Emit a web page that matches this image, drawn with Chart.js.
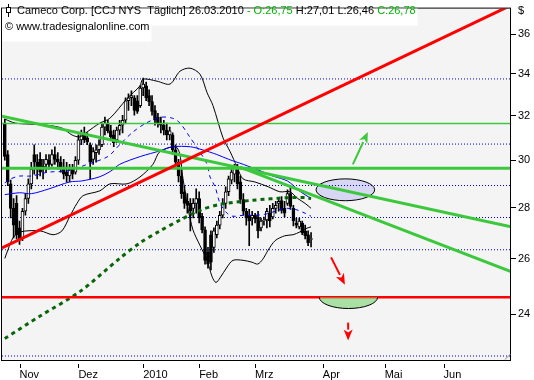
<!DOCTYPE html>
<html><head><meta charset="utf-8">
<script src="https://cdn.jsdelivr.net/npm/chart.js@4.4.0/dist/chart.umd.min.js"></script>
<style>html,body{margin:0;padding:0;background:#fff}canvas{display:block}</style>
</head><body>
<canvas id="c" width="534" height="380"></canvas>
<script>
// trading-day index of the first candle (0 = 2 Nov 2009)
const firstDay = -5;
const openP = [31.66,30.25,28.99,27.98,28.18,27.20,26.81,27.86,28.38,28.99,30.25,29.91,30.04,29.61,29.82,30.00,29.82,30.25,30.04,29.91,29.70,29.49,29.32,29.61,29.49,30.00,30.90,31.12,30.99,30.68,30.04,30.33,30.46,30.68,31.47,31.66,31.30,31.12,30.90,31.34,31.56,31.79,32.70,32.84,32.84,32.70,32.47,33.31,33.41,32.94,32.66,32.24,31.93,31.66,31.56,31.34,31.12,31.12,30.46,29.91,29.32,28.66,28.26,28.18,27.98,28.18,28.38,27.66,27.12,26.25,26.93,26.44,26.93,27.31,27.70,28.18,28.66,29.15,29.40,29.61,29.07,28.34,27.86,27.70,27.59,27.70,27.63,27.20,27.47,27.51,27.78,27.63,27.98,28.18,28.30,27.98,28.18,28.58,27.98,27.39,27.24,27.39,27.08,26.93,26.75];
const highP = [31.84,30.42,29.15,28.38,28.50,27.47,27.98,28.58,29.20,29.91,30.68,30.25,30.33,30.04,30.25,30.25,30.46,30.59,30.33,30.16,30.04,29.91,29.82,29.82,30.16,31.12,31.34,31.47,31.21,30.77,30.55,30.68,30.90,31.66,31.93,31.79,31.56,31.34,31.47,31.79,32.02,32.84,33.03,33.17,32.94,32.94,33.41,33.79,33.60,33.22,32.94,32.47,32.11,31.93,31.79,31.66,31.47,31.21,30.68,30.04,29.61,28.91,28.58,28.38,28.38,28.78,28.66,27.78,27.24,26.44,27.08,27.20,27.47,27.86,28.38,28.87,29.32,29.61,29.82,29.82,29.32,28.58,27.98,27.94,27.86,27.78,27.86,27.59,27.63,27.98,28.10,28.18,28.26,28.42,28.46,28.26,28.74,28.83,28.10,27.59,27.59,27.47,27.31,27.08,27.01];
const lowP = [30.00,28.91,27.59,26.81,26.77,26.55,26.70,27.70,28.18,28.78,29.40,29.20,29.32,29.20,29.49,29.61,29.74,29.82,29.61,29.49,29.20,29.07,29.07,29.20,29.40,29.82,30.68,30.77,30.68,29.20,29.82,29.91,30.25,30.59,31.12,31.21,30.90,30.59,30.77,31.12,31.21,31.66,32.24,32.47,32.02,32.11,32.38,32.94,32.70,32.47,32.02,31.56,31.47,31.21,31.12,30.90,30.90,30.25,29.74,29.07,28.38,27.98,27.78,27.08,27.59,27.78,27.39,27.00,25.81,25.66,25.59,26.25,26.81,27.16,27.59,27.98,28.50,28.99,29.07,28.78,28.18,27.70,27.31,26.51,27.31,27.39,26.81,27.08,27.31,27.20,27.24,27.55,27.78,27.86,27.78,27.63,28.10,27.94,27.28,27.20,27.16,26.93,26.77,26.51,26.46];
const closeP = [30.16,29.07,27.98,27.31,26.93,26.77,27.86,28.38,28.99,29.61,29.91,29.61,29.49,29.74,30.04,29.82,30.25,30.04,29.91,29.70,29.40,29.32,29.61,29.40,30.00,30.90,31.12,30.90,30.81,29.91,30.38,30.46,30.68,31.47,31.66,31.30,31.03,30.77,31.34,31.56,31.79,32.70,32.84,32.94,32.24,32.20,33.31,33.50,32.84,32.66,32.20,31.79,31.66,31.56,31.34,31.12,31.30,30.46,29.91,29.32,28.58,28.18,28.10,27.86,28.18,28.38,27.59,27.12,25.95,25.81,25.88,27.08,27.31,27.70,28.18,28.66,29.20,29.49,29.65,28.99,28.34,27.86,27.59,27.47,27.70,27.55,27.08,27.47,27.51,27.86,27.47,27.98,28.10,28.26,27.90,27.78,28.58,28.06,27.47,27.31,27.47,27.00,26.89,26.62,26.78];

// indicator readings [day index, value]
const sma20 = [[-5,29.03],[-3,29.20],[0,29.32],[4,29.32],[10,29.49],[16,29.53],[23,29.82],[30,30.16],[34,30.68],[38.5,31.25],[43,31.66],[48,31.93],[52,31.88],[54.5,31.66],[58,30.99],[60.3,30.55],[63.7,29.82],[64.7,29.28],[66.4,28.87],[68.1,28.18],[70.5,27.78],[72.5,27.66],[76,27.70],[80,27.70],[83.3,27.74],[86.8,27.86],[90,27.98],[93.6,27.94],[97,27.78],[99,27.66]];
const sma50 = [[-5,28.54],[0,28.62],[4,28.58],[10,28.78],[17,29.07],[21,29.11],[27,29.28],[31,29.53],[34,29.82],[41,30.16],[48,30.42],[52,30.59],[58,30.59],[62,30.46],[67,30.25],[71,30.04],[76,29.82],[82,29.53],[86,29.32],[91,29.11],[95,28.70],[99,28.38]];
const sma200 = [[-5,23.17],[7,23.94],[20.5,24.80],[34,26.02],[41,26.62],[47.7,27.08],[54.5,27.51],[61.3,27.90],[68.1,28.14],[78.3,28.30],[91.9,28.42],[97,28.42],[99,28.38]];
const bbUpper = [[-5,31.84],[-1.5,31.66],[3.6,31.61],[9.3,31.56],[14.4,31.43],[17.8,31.12],[20.5,31.03],[22.9,31.25],[27.3,31.66],[30.7,31.88],[36.5,32.80],[40.9,33.41],[41.9,33.74],[46.7,33.64],[51.1,33.50],[54.5,34.13],[57.9,34.28],[61.3,33.98],[63.7,33.08],[65.7,32.47],[69.1,30.99],[71.5,30.38],[73.9,29.70],[75.9,29.20],[79.9,29.07],[84.4,28.87],[88.4,28.66],[91.8,28.66],[94.5,28.38],[97,28.18],[99,27.98]];
const bbLower = [[-5,26.02],[-3.9,26.36],[-2.2,26.81],[0.2,27.04],[7,27.08],[11.4,26.93],[14.4,27.08],[17.1,27.66],[19.5,28.18],[21.6,28.50],[27.3,28.70],[30.7,28.99],[36.5,28.99],[40.9,29.28],[45.3,29.82],[47.7,30.38],[53.5,30.55],[55.5,29.20],[57.2,27.98],[58.9,27.12],[61.3,26.51],[63.7,25.95],[65.4,25.34],[66.7,25.13],[68.1,25.30],[70.5,25.70],[72.5,25.95],[75.9,25.95],[78.9,25.88],[80.9,25.81],[82.6,25.99],[84.4,26.33],[86.8,26.70],[90.1,26.89],[92.9,26.93],[95.2,27.04],[97,27.16],[99,27.24]];

// drawn levels / trend lines
const fibLevels = [33.75,30.71,28.92,27.61,26.35,22.59];
const greenLevels = [31.64,29.65];
const redLevel = 24.60;
const redTrend = [[-5.95,26.42],[166.9,37.55]];
const greenTrendA = [[-5.95,31.97],[166.9,27.24]];
const greenTrendB = [[74.9,29.70],[166.9,25.53]];

// annotations (data coordinates)
const ellipseBox = {x0:100.7, x1:120.6, p0:29.20, p1:28.29};
const bowlBox = {x0:101.8, x1:121.6, top:24.60, bottom:24.20};
const arrows = [
  {from:[105.8,26.06], to:[110.5,25.05], color:'#ff0000'},
  {from:[111.6,23.71], to:[111.6,23.10], color:'#ff0000'},
  {from:[113.2,29.82], to:[118.3,31.25], color:'#3cc83c'}
];

// axes
const xMin = -5.95, xMax = 166.9;
const yMin = 22.46, yMax = 37.37;
const monthTicks = [0,20,42,61,80,103,124,144];
const monthLabels = ['Nov','Dez','2010','Feb','Mrz','Apr','Mai','Jun'];
const priceTicks = [24,26,28,30,32,34,36];
const title = [['Cameco Corp. [CCJ NYS  Täglich] 26.03.2010 ','#000'],['- O:26,75','#00b400'],[' H:27,01 L:26,46 ','#000'],['C:26,78','#00b400']];
const copyright = '© www.tradesignalonline.com';

const FONT = '"Liberation Sans", Arial, sans-serif';
Chart.defaults.font.family = FONT;
Chart.defaults.font.size = 11;
Chart.defaults.color = '#000';

const pts = arr => arr.map(p => ({x:p[0], y:p[1]}));
const days = openP.map((_, k) => firstDay + k);
const bodies = days.map((d, k) => ({x:d, y:[openP[k], closeP[k]]}));
const wicks = days.map((d, k) => ({x:d, y:[lowP[k], highP[k]]}));
const isUp = k => closeP[k] >= openP[k];

function line(data, color, width, extra) {
  return Object.assign({type:'line', data, borderColor:color, borderWidth:width, pointRadius:0, fill:false, tension:0, clip:0}, extra||{});
}

const datasets = [];
fibLevels.forEach(v => datasets.push(line([{x:xMin,y:v},{x:xMax,y:v}], '#0000c8', 1, {borderDash:[1,2], order:20})));
datasets.push({type:'bar', data:wicks, backgroundColor:'#000', borderWidth:0, barThickness:1, grouped:false, order:15});
datasets.push({type:'bar', data:bodies, grouped:false, order:14, barThickness:3, borderWidth:1, borderSkipped:false, borderColor:'#000',
  backgroundColor: c => isUp(c.dataIndex) ? '#ffffff' : '#000000'});
datasets.push(line(pts(bbUpper), '#000', 1, {tension:0.3, order:12}));
datasets.push(line(pts(bbLower), '#000', 1, {tension:0.3, order:12}));
datasets.push(line(pts(sma20), '#0000ff', 1, {tension:0.3, borderDash:[4,4], order:11}));
datasets.push(line(pts(sma50), '#0000ff', 1, {tension:0.3, order:11}));
datasets.push(line(pts(sma200), '#0a640a', 3, {tension:0.3, borderDash:[4,4], order:10}));
datasets.push(line([{x:xMin,y:greenLevels[0]},{x:xMax,y:greenLevels[0]}], '#3cc83c', 1.5, {order:8}));
datasets.push(line([{x:xMin,y:greenLevels[1]},{x:xMax,y:greenLevels[1]}], '#3cc83c', 3, {order:8}));
datasets.push(line(pts(greenTrendA), '#3cc83c', 3, {order:7}));
datasets.push(line(pts(greenTrendB), '#3cc83c', 3, {order:7}));
datasets.push(line([{x:xMin,y:redLevel},{x:xMax,y:redLevel}], '#ff0000', 2.5, {order:6}));
datasets.push(line(pts(redTrend), '#ff0000', 3, {order:5}));

function drawArrow(ctx, x1, y1, x2, y2, color) {
  const a = Math.atan2(y2 - y1, x2 - x1), hl = 11, hw = 4.5;
  const bx = x2 - hl * Math.cos(a), by = y2 - hl * Math.sin(a);
  ctx.strokeStyle = color; ctx.lineWidth = 2;
  ctx.beginPath(); ctx.moveTo(x1, y1); ctx.lineTo(bx, by); ctx.stroke();
  ctx.fillStyle = color; ctx.beginPath();
  ctx.moveTo(x2, y2);
  ctx.lineTo(bx - hw * Math.sin(a), by + hw * Math.cos(a));
  ctx.lineTo(x2 - (hl - 3) * Math.cos(a), y2 - (hl - 3) * Math.sin(a));
  ctx.lineTo(bx + hw * Math.sin(a), by - hw * Math.cos(a));
  ctx.closePath(); ctx.fill();
}

const deco = {
  id:'deco',
  beforeDraw(chart) {
    const {ctx, chartArea:a} = chart;
    ctx.save();
    ctx.fillStyle = '#fff'; ctx.fillRect(0, 0, chart.width, chart.height);
    ctx.fillStyle = '#f4f4f4'; ctx.fillRect(a.left, a.top, a.right - a.left, a.bottom - a.top);
    ctx.restore();
  },
  beforeDatasetsDraw(chart) {
    const {ctx} = chart, xs = chart.scales.x, ys = chart.scales.y;
    const x0 = xs.getPixelForValue(ellipseBox.x0), x1 = xs.getPixelForValue(ellipseBox.x1);
    const y0 = ys.getPixelForValue(ellipseBox.p0), y1 = ys.getPixelForValue(ellipseBox.p1);
    ctx.save();
    ctx.beginPath();
    ctx.ellipse((x0 + x1) / 2, (y0 + y1) / 2, Math.abs(x1 - x0) / 2, Math.abs(y1 - y0) / 2, 0, 0, Math.PI * 2);
    ctx.fillStyle = 'rgba(212,212,244,0.9)'; ctx.fill();
    ctx.strokeStyle = '#000'; ctx.lineWidth = 1; ctx.stroke();
    ctx.restore();
  },
  afterDatasetsDraw(chart) {
    const {ctx} = chart, xs = chart.scales.x, ys = chart.scales.y;
    ctx.save();
    const bx0 = xs.getPixelForValue(bowlBox.x0), bx1 = xs.getPixelForValue(bowlBox.x1);
    const bt = ys.getPixelForValue(bowlBox.top), bb = ys.getPixelForValue(bowlBox.bottom);
    ctx.beginPath();
    ctx.ellipse((bx0 + bx1) / 2, bt, (bx1 - bx0) / 2, bb - bt, 0, 0, Math.PI);
    ctx.closePath();
    ctx.fillStyle = 'rgba(120,210,110,0.6)'; ctx.fill();
    ctx.beginPath();
    ctx.ellipse((bx0 + bx1) / 2, bt, (bx1 - bx0) / 2, bb - bt, 0, 0, Math.PI);
    ctx.strokeStyle = '#000'; ctx.lineWidth = 1; ctx.stroke();
    arrows.forEach(ar => drawArrow(ctx, xs.getPixelForValue(ar.from[0]), ys.getPixelForValue(ar.from[1]),
      xs.getPixelForValue(ar.to[0]), ys.getPixelForValue(ar.to[1]), ar.color));
    ctx.restore();
  },
  afterDraw(chart) {
    const {ctx, chartArea:a} = chart, xs = chart.scales.x;
    ctx.save();
    ctx.strokeStyle = '#000'; ctx.lineWidth = 1;
    ctx.strokeRect(a.left - 0.5, a.top - 0.5, a.right - a.left, a.bottom - a.top + 1);
    ctx.strokeStyle = '#888';
    ctx.beginPath(); ctx.moveTo(a.right - 6, a.bottom - 0.5); ctx.lineTo(a.right - 0.5, a.bottom - 6); ctx.stroke();
    ctx.strokeStyle = '#000';
    monthTicks.forEach(v => {
      const px = Math.round(xs.getPixelForValue(v)) + 0.5;
      ctx.beginPath(); ctx.moveTo(px, a.bottom + 4); ctx.lineTo(px, a.bottom + 8); ctx.stroke();
    });
    // header
    ctx.textBaseline = 'alphabetic';
    ctx.font = '11px ' + FONT;
    let total = 0; title.forEach(s => total += ctx.measureText(s[0]).width);
    ctx.fillStyle = '#fff'; ctx.fillRect(a.left, a.top, 17 + total + 2 - a.left, 17);
    const cw = ctx.measureText(copyright).width;
    ctx.fillRect(a.left, a.top + 17, 5 + cw + 2 - a.left, 16);
    ctx.strokeStyle = '#000'; ctx.lineWidth = 1;
    ctx.beginPath(); ctx.moveTo(8.5, 4); ctx.lineTo(8.5, 17); ctx.stroke();
    ctx.fillStyle = '#fff'; ctx.fillRect(6.5, 7.5, 4, 5); ctx.strokeRect(6.5, 7.5, 4, 5);
    let x = 17;
    title.forEach(s => { ctx.fillStyle = s[1]; ctx.fillText(s[0], x, 14); x += ctx.measureText(s[0]).width; });
    ctx.fillStyle = '#000';
    ctx.fillText(copyright, 5, 30);
    ctx.fillText('$', 518, 14);
    ctx.restore();
  }
};

new Chart(document.getElementById('c'), {
  type:'line',
  data:{datasets},
  options:{
    responsive:false, animation:false, devicePixelRatio:1,
    layout:{padding:{left:2, top:1, right:0, bottom:0}},
    plugins:{legend:{display:false}, tooltip:{enabled:false}},
    scales:{
      x:{type:'linear', min:xMin, max:xMax, bounds:'data', offset:false,
        grid:{display:true, drawOnChartArea:false, drawTicks:false}, border:{display:false},
        afterBuildTicks: s => { s.ticks = monthTicks.map(v => ({value:v})); },
        afterFit: s => { s.height = 20; },
        ticks:{autoSkip:false, maxRotation:0, align:'start', padding:8, callback:(v, i) => monthLabels[i]}},
      y:{type:'logarithmic', position:'right', min:yMin, max:yMax, bounds:'data',
        grid:{drawOnChartArea:false, drawTicks:true, tickLength:5, color:'#000'}, border:{display:false},
        afterBuildTicks: s => { s.ticks = priceTicks.map(v => ({value:v})); },
        afterFit: s => { s.width = 23; },
        ticks:{autoSkip:false, padding:2, callback:v => String(v)}}
    }
  },
  plugins:[deco]
});
</script>
</body></html>
